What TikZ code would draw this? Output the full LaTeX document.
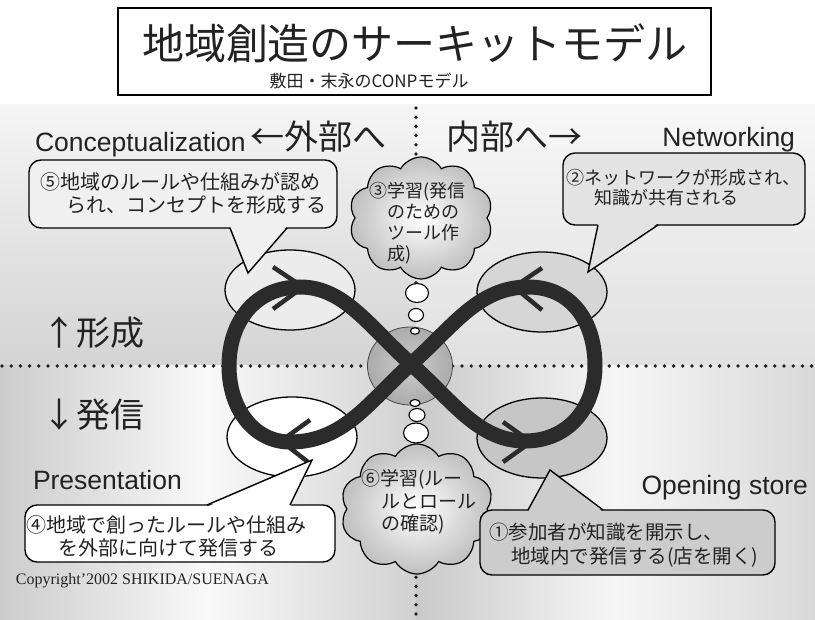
\documentclass[tikz,border=0pt]{standalone}
\usepackage{fontspec}
\setmainfont{Noto Sans CJK JP}
\newfontfamily\lat{Liberation Sans}
\newfontfamily\tms{Liberation Serif}
\usetikzlibrary{shapes.geometric,shapes.symbols}
\definecolor{txt}{HTML}{222222}
\definecolor{loopc}{HTML}{2B2B2B}
\begin{document}
\begin{tikzpicture}[x=1pt,y=-1pt,
  txtnode/.style={inner sep=0pt, outer sep=0pt, text=txt, align=left},
  dotline/.style={line width=3.8pt, dash pattern=on 0pt off 9.2pt, line cap=round, draw=txt},
  oval/.style={ellipse, draw=black, line width=1.3pt, minimum width=130pt, minimum height=80pt, inner sep=0pt},
  bubble/.style={ellipse, draw=black, line width=1.1pt, fill=white, inner sep=0pt},
  callbox/.style={rectangle, rounded corners=12pt, draw=black, line width=1.4pt, inner sep=0pt},
  tailline/.style={draw=black, line width=1.4pt, line join=miter},
  puff/.style={cloud, cloud puffs=10, cloud puff arc=120, draw=black, line width=1.2pt, inner sep=0pt, inner color=white, outer color=gray!50},
  infloop/.style={draw=loopc, line width=15pt},
  chev/.style={draw=loopc, line width=4.5pt},
]
\useasboundingbox (0,0) rectangle (815,620);
\fill[white] (0,0) rectangle (815,620);
% background panel
\shade[top color=gray!8, bottom color=gray!34] (0,105) rectangle (416,366);
\shade[top color=gray!6, bottom color=gray!24] (416,105) rectangle (815,366);
\shade[left color=gray!40, right color=gray!36, middle color=gray!5] (0,366) rectangle (416,620);
\shade[left color=gray!42, right color=gray!30, middle color=gray!7] (416,366) rectangle (815,620);
% dotted axes
\coordinate (hL) at (2,366); \coordinate (hR) at (815,366);
\coordinate (vT) at (416,108); \coordinate (vB) at (416,620);
\draw[dotline] (hL) -- (hR);
\draw[dotline] (vT) -- (vB);
% ovals
\node[oval, fill=gray!15] (eTL) at (290,290) {};
\node[oval, fill=gray!32] (eTR) at (542,292) {};
\node[oval, fill=white] (eBL) at (292,437) {};
\node[oval, fill=gray!45] (eBR) at (542,438) {};
% core disk
\node[ellipse, draw=gray!55!black, line width=0.8pt, minimum width=85pt, minimum height=78pt, inner sep=0pt, inner color=gray!40, outer color=gray!66] (core) at (410,366) {};
% infinity loop
\draw[infloop] (411,364) .. controls (452,328) and (478,287) .. (528,287)
  .. controls (572,287) and (595,322) .. (595,366)
  .. controls (595,408) and (568,441) .. (525,441)
  .. controls (478,441) and (452,400) .. (411,364)
  .. controls (370,328) and (345,287) .. (300,287)
  .. controls (255,287) and (229,322) .. (229,366)
  .. controls (229,410) and (255,442) .. (290,442)
  .. controls (345,442) and (370,400) .. (411,364) -- cycle;
% chevrons
\coordinate (a1s) at (273,267); \coordinate (a1t) at (303,287); \coordinate (a1e) at (273,309);
\coordinate (a2s) at (310,420); \coordinate (a2t) at (281,441); \coordinate (a2e) at (308,462);
\coordinate (a3s) at (542,268); \coordinate (a3t) at (514,287); \coordinate (a3e) at (542,310);
\coordinate (a4s) at (503,422); \coordinate (a4t) at (531,442); \coordinate (a4e) at (503,462);
\draw[chev] (a1s) -- (a1t) -- (a1e);
\draw[chev] (a2s) -- (a2t) -- (a2e);
\draw[chev] (a3s) -- (a3t) -- (a3e);
\draw[chev] (a4s) -- (a4t) -- (a4e);
% thought bubbles
\node[bubble, minimum width=23pt, minimum height=19pt] (bu1) at (417,293) {};
\node[bubble, minimum width=15pt, minimum height=13pt] (bu2) at (416,315) {};
\node[bubble, minimum width=9pt, minimum height=6.5pt] (bu3) at (415,331) {};
\node[bubble, minimum width=10pt, minimum height=7pt] (bd3) at (415,403) {};
\node[bubble, minimum width=16pt, minimum height=13pt] (bd2) at (417,415) {};
\node[bubble, minimum width=25pt, minimum height=20pt] (bd1) at (416,433) {};
% clouds
\node[puff, minimum width=144pt, minimum height=122pt] (cl3) at (421,218) {};
\node[puff, minimum width=153pt, minimum height=130pt] (cl6) at (417,509) {};
\node[txtnode, anchor=west, font=\fontsize{18}{21}\selectfont] (t3) at (369,223) {③学習(発信\\\hspace{18pt}のための\\\hspace{18pt}ツール作\\\hspace{18pt}成)};
\node[txtnode, anchor=west, font=\fontsize{19}{22.5}\selectfont] (t6) at (361,502) {⑥学習(ルー\\\hspace{20pt}ルとロール\\\hspace{20pt}の確認)};
% callout 5
\node[callbox, fill=gray!12, minimum width=308pt, minimum height=68pt] (b5) at (183,194) {};
\coordinate (p5a) at (230,228); \coordinate (p5t) at (248,273); \coordinate (p5b) at (287,228);
\fill[gray!12] ([yshift=2pt]p5a) -- (p5t) -- ([yshift=2pt]p5b) -- cycle;
\draw[tailline] (p5a) -- (p5t) -- (p5b);
\node[txtnode, anchor=west, font=\fontsize{20}{23}\selectfont] (t5) at (41,193.5) {⑤地域のルールや仕組みが認め\\\hspace{25pt}られ、コンセプトを形成する};
% callout 2
\node[callbox, fill=gray!22, minimum width=242pt, minimum height=72pt] (b2) at (684,189) {};
\coordinate (p2a) at (598,225); \coordinate (p2t) at (588,272); \coordinate (p2b) at (658,225);
\fill[gray!22] ([yshift=2pt]p2a) -- (p2t) -- ([yshift=2pt]p2b) -- cycle;
\draw[tailline] (p2a) -- (p2t) -- (p2b);
\node[txtnode, anchor=west, font=\fontsize{18}{20}\selectfont] (t2) at (566,188) {②ネットワークが形成され、\\\hspace{28pt}知識が共有される};
% callout 4
\node[callbox, fill=white, minimum width=310pt, minimum height=57pt] (b4) at (180,533.5) {};
\coordinate (p4a) at (207,505); \coordinate (p4t) at (312,460); \coordinate (p4b) at (290,505);
\fill[white] ([yshift=-2pt]p4a) -- (p4t) -- ([yshift=-2pt]p4b) -- cycle;
\draw[tailline] (p4a) -- (p4t) -- (p4b);
\node[txtnode, anchor=west, font=\fontsize{20}{23}\selectfont] (t4) at (27,536.5) {④地域で創ったルールや仕組み\\\hspace{32pt}を外部に向けて発信する};
% callout 1
\node[callbox, fill=gray!40, minimum width=295pt, minimum height=65pt] (b1) at (627.5,542.5) {};
\coordinate (p1a) at (528,510); \coordinate (p1t) at (550,470); \coordinate (p1b) at (603,510);
\fill[gray!40] ([yshift=-2pt]p1a) -- (p1t) -- ([yshift=-2pt]p1b) -- cycle;
\draw[tailline] (p1a) -- (p1t) -- (p1b);
\node[txtnode, anchor=west, font=\fontsize{19.5}{24}\selectfont] (t1) at (489,545) {①参加者が知識を開示し、\\\hspace{22pt}地域内で発信する(店を開く)};
% quadrant labels
\node[txtnode, anchor=base west, font=\lat\fontsize{26.5}{26.5}\selectfont] (lc) at (35,152) {Conceptualization};
\node[txtnode, anchor=west, font=\fontsize{34}{34}\selectfont] (lo) at (250,137) {←外部へ};
\node[txtnode, anchor=west, font=\fontsize{34}{34}\selectfont] (li) at (446,137) {内部へ→};
\node[txtnode, anchor=base east, font=\lat\fontsize{26.5}{26.5}\selectfont] (ln) at (795,147) {Networking};
\node[txtnode, anchor=west, font=\fontsize{34}{34}\selectfont] (lf) at (42,333) {↑形成};
\node[txtnode, anchor=west, font=\fontsize{34}{34}\selectfont] (lh) at (42,415) {↓発信};
\node[txtnode, anchor=base west, font=\lat\fontsize{26.5}{26.5}\selectfont] (lp) at (33,490) {Presentation};
\node[txtnode, anchor=base east, font=\lat\fontsize{26.5}{26.5}\selectfont] (ls) at (808,495) {Opening store};
\node[txtnode, anchor=base west, font=\tms\fontsize{16}{16}\selectfont] (cp) at (16,584) {Copyright’2002 SHIKIDA/SUENAGA};
% title
\node[draw=black, line width=1.5pt, minimum width=593pt, minimum height=87pt, inner sep=0pt] (titlebox) at (414.5,51.5) {};
\node[txtnode, font=\fontsize{42}{42}\selectfont] (title) at (415,43) {地域創造のサーキットモデル};
\node[txtnode, font=\fontsize{17}{17}\selectfont] (subtitle) at (369,81) {敷田・末永のCONPモデル};
\end{tikzpicture}
\end{document}
